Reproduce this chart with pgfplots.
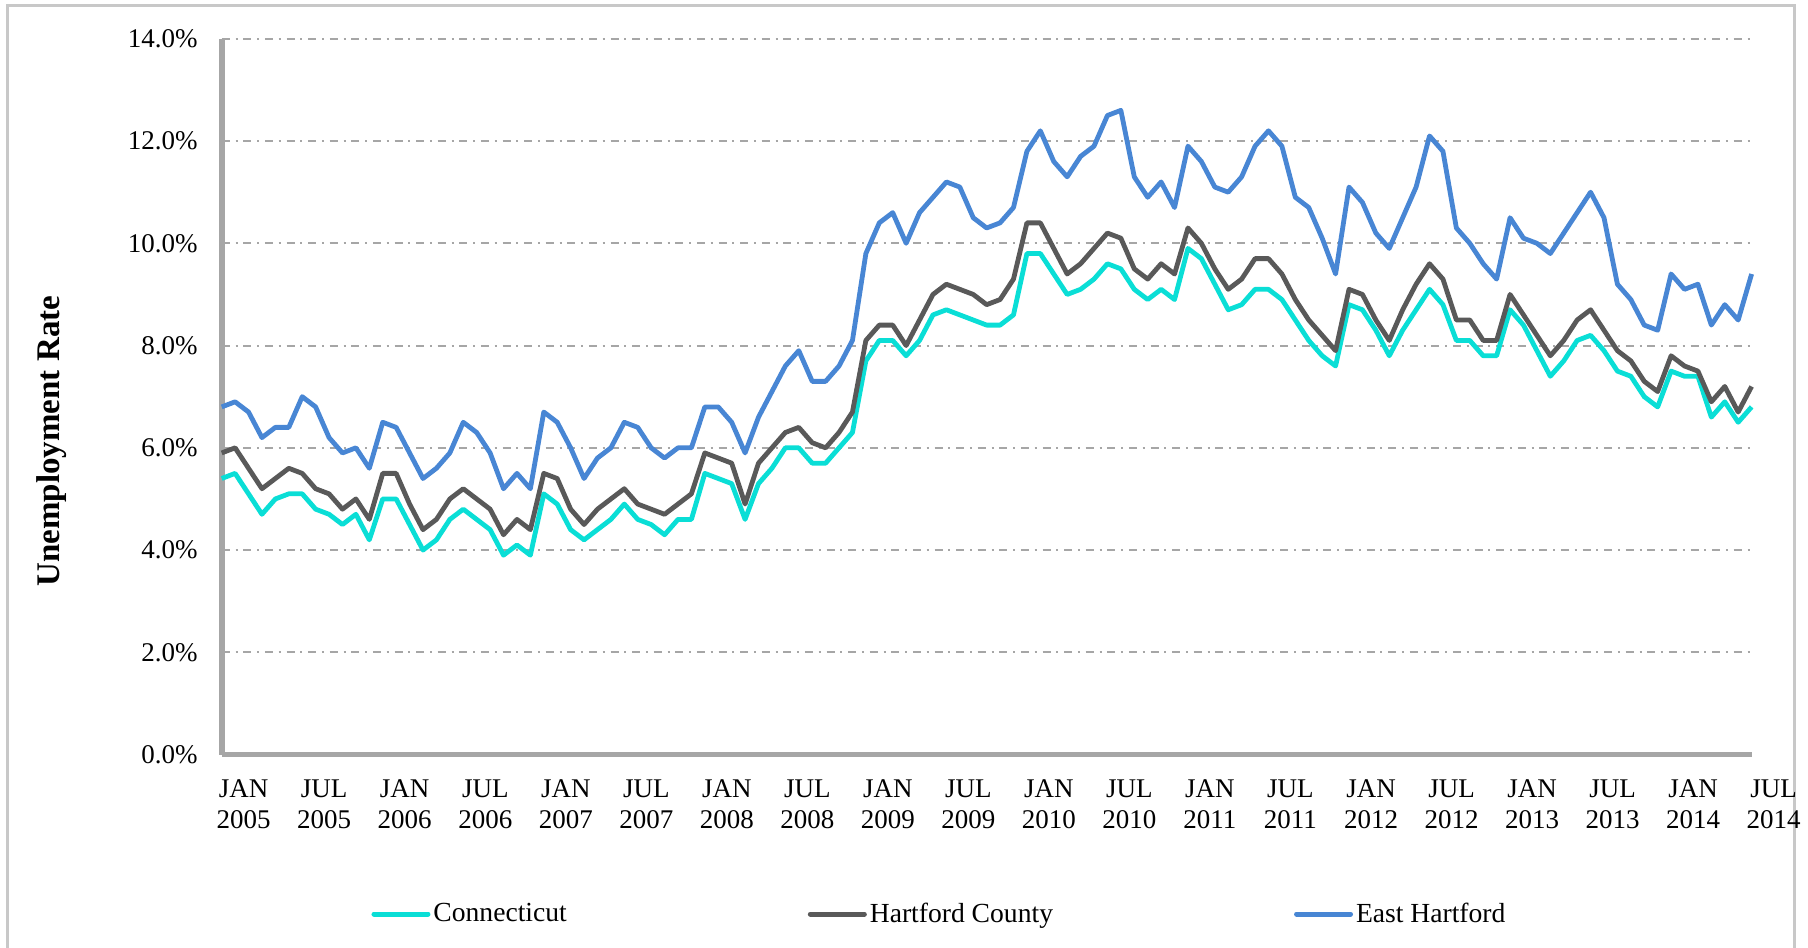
\documentclass[border=0pt]{standalone}
\usepackage{fontspec}
\setmainfont{Liberation Serif}
\usepackage{pgfplots}
\pgfplotsset{compat=1.18}
\usepackage{pgfplotstable}
\definecolor{ctcol}{RGB}{10,222,214}
\definecolor{hccol}{RGB}{89,89,89}
\definecolor{ehcol}{RGB}{72,134,212}
\definecolor{axgray}{RGB}{166,166,166}
\definecolor{framegray}{RGB}{200,200,200}
\pgfplotstableread{
i ct hc eh
0 5.4 5.9 6.8
1 5.5 6.0 6.9
2 5.1 5.6 6.7
3 4.7 5.2 6.2
4 5.0 5.4 6.4
5 5.1 5.6 6.4
6 5.1 5.5 7.0
7 4.8 5.2 6.8
8 4.7 5.1 6.2
9 4.5 4.8 5.9
10 4.7 5.0 6.0
11 4.2 4.6 5.6
12 5.0 5.5 6.5
13 5.0 5.5 6.4
14 4.5 4.9 5.9
15 4.0 4.4 5.4
16 4.2 4.6 5.6
17 4.6 5.0 5.9
18 4.8 5.2 6.5
19 4.6 5.0 6.3
20 4.4 4.8 5.9
21 3.9 4.3 5.2
22 4.1 4.6 5.5
23 3.9 4.4 5.2
24 5.1 5.5 6.7
25 4.9 5.4 6.5
26 4.4 4.8 6.0
27 4.2 4.5 5.4
28 4.4 4.8 5.8
29 4.6 5.0 6.0
30 4.9 5.2 6.5
31 4.6 4.9 6.4
32 4.5 4.8 6.0
33 4.3 4.7 5.8
34 4.6 4.9 6.0
35 4.6 5.1 6.0
36 5.5 5.9 6.8
37 5.4 5.8 6.8
38 5.3 5.7 6.5
39 4.6 4.9 5.9
40 5.3 5.7 6.6
41 5.6 6.0 7.1
42 6.0 6.3 7.6
43 6.0 6.4 7.9
44 5.7 6.1 7.3
45 5.7 6.0 7.3
46 6.0 6.3 7.6
47 6.3 6.7 8.1
48 7.7 8.1 9.8
49 8.1 8.4 10.4
50 8.1 8.4 10.6
51 7.8 8.0 10.0
52 8.1 8.5 10.6
53 8.6 9.0 10.9
54 8.7 9.2 11.2
55 8.6 9.1 11.1
56 8.5 9.0 10.5
57 8.4 8.8 10.3
58 8.4 8.9 10.4
59 8.6 9.3 10.7
60 9.8 10.4 11.8
61 9.8 10.4 12.2
62 9.4 9.9 11.6
63 9.0 9.4 11.3
64 9.1 9.6 11.7
65 9.3 9.9 11.9
66 9.6 10.2 12.5
67 9.5 10.1 12.6
68 9.1 9.5 11.3
69 8.9 9.3 10.9
70 9.1 9.6 11.2
71 8.9 9.4 10.7
72 9.9 10.3 11.9
73 9.7 10.0 11.6
74 9.2 9.5 11.1
75 8.7 9.1 11.0
76 8.8 9.3 11.3
77 9.1 9.7 11.9
78 9.1 9.7 12.2
79 8.9 9.4 11.9
80 8.5 8.9 10.9
81 8.1 8.5 10.7
82 7.8 8.2 10.1
83 7.6 7.9 9.4
84 8.8 9.1 11.1
85 8.7 9.0 10.8
86 8.3 8.5 10.2
87 7.8 8.1 9.9
88 8.3 8.7 10.5
89 8.7 9.2 11.1
90 9.1 9.6 12.1
91 8.8 9.3 11.8
92 8.1 8.5 10.3
93 8.1 8.5 10.0
94 7.8 8.1 9.6
95 7.8 8.1 9.3
96 8.7 9.0 10.5
97 8.4 8.6 10.1
98 7.9 8.2 10.0
99 7.4 7.8 9.8
100 7.7 8.1 10.2
101 8.1 8.5 10.6
102 8.2 8.7 11.0
103 7.9 8.3 10.5
104 7.5 7.9 9.2
105 7.4 7.7 8.9
106 7.0 7.3 8.4
107 6.8 7.1 8.3
108 7.5 7.8 9.4
109 7.4 7.6 9.1
110 7.4 7.5 9.2
111 6.6 6.9 8.4
112 6.9 7.2 8.8
113 6.5 6.7 8.5
114 6.8 7.2 9.4
}\data
\begin{document}
\begin{tikzpicture}
\useasboundingbox (0,0) rectangle (904pt,473.5pt);
\draw[framegray, line width=1.5pt] (3.5pt,-5pt) -- (3.5pt,470.5pt) -- (897pt,470.5pt) -- (897pt,-5pt);
\begin{axis}[
  at={(110.85pt,96.2pt)}, anchor=south west,
  scale only axis, width=764.95pt, height=357.9pt,
  xmin=0, xmax=114, ymin=0, ymax=14,
  clip=false,
  axis x line*=bottom, axis y line*=left,
  axis line style={-, draw=axgray, line width=2.9pt},
  major tick length=0pt,
  ymajorgrids,
  grid style={draw=axgray, line width=1pt, dash pattern=on 4pt off 2.9pt on 1pt off 2.9pt},
  ytick={0,2,...,14},
  yticklabels={0.0\%,2.0\%,4.0\%,6.0\%,8.0\%,10.0\%,12.0\%,14.0\%},
  yticklabel style={font=\fontsize{13.5}{15.5}\selectfont, inner xsep=0pt, xshift=-11.8pt},
  xtick={0,6,...,114},
  xticklabels={{JAN\\2005},{JUL\\2005},{JAN\\2006},{JUL\\2006},{JAN\\2007},{JUL\\2007},{JAN\\2008},{JUL\\2008},{JAN\\2009},{JUL\\2009},{JAN\\2010},{JUL\\2010},{JAN\\2011},{JUL\\2011},{JAN\\2012},{JUL\\2012},{JAN\\2013},{JUL\\2013},{JAN\\2014},{JUL\\2014}},
  xticklabel style={font=\fontsize{13.5}{15.5}\selectfont, align=center, anchor=north, inner sep=0pt, xshift=11pt, yshift=-12.5pt},
  ylabel={Unemployment Rate},
  every axis y label/.style={at={(axis description cs:-0.1109,0.438)}, rotate=90, anchor=center, font=\bfseries\fontsize{16.5}{18}\selectfont},
  legend columns=-1,
  legend style={at={(0.4695,-0.2227)}, anchor=center, draw=none, fill=none,
    font=\fontsize{13.8}{15.5}\selectfont,
    /tikz/every even column/.append style={column sep=119pt},
    nodes={inner xsep=1.5pt}},
  legend image code/.code={\draw[#1, line width=2.5pt, line cap=round] (0pt,0pt) -- (27pt,0pt);},
]
\addplot[ctcol, line width=2.4pt, line join=round] table[x=i, y=ct] {\data};
\addlegendentry{Connecticut}
\addplot[hccol, line width=2.4pt, line join=round] table[x=i, y=hc] {\data};
\addlegendentry{Hartford County}
\addplot[ehcol, line width=2.4pt, line join=round] table[x=i, y=eh] {\data};
\addlegendentry{East Hartford}
\end{axis}
\end{tikzpicture}
\end{document}
